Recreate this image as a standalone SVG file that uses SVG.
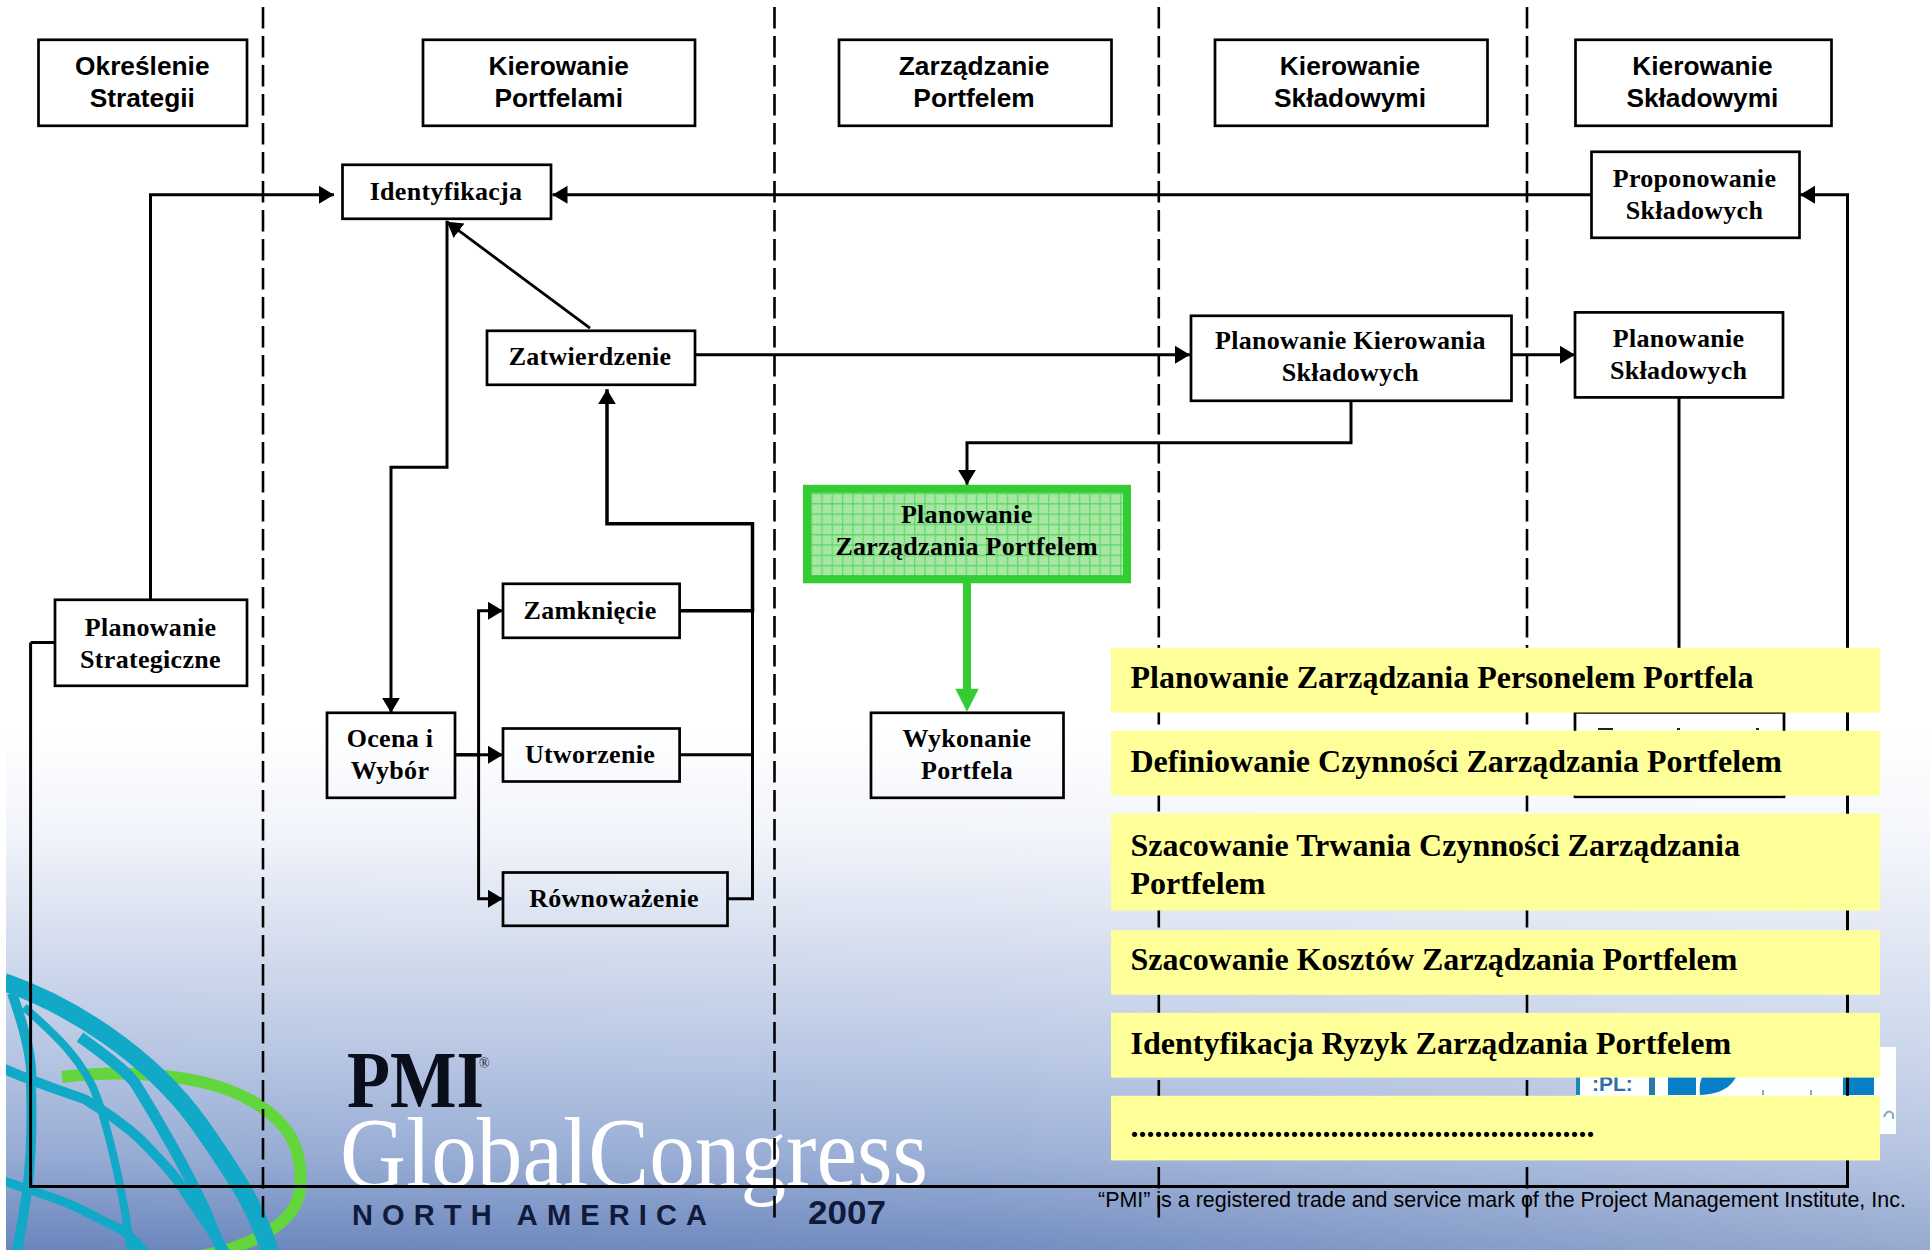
<svg xmlns="http://www.w3.org/2000/svg" width="1930" height="1250" viewBox="0 0 1930 1250">
<style>
.box{fill:none;stroke:#000;stroke-width:2.7}
.hd{font:bold 26.300px "Liberation Sans",Arial,sans-serif;text-anchor:middle;fill:#000}
.nd{font:bold 26px "Liberation Serif","Times New Roman",serif;text-anchor:middle;fill:#000;letter-spacing:.3px}
.yl{fill:#ffff99}
.yt{font:bold 32px "Liberation Serif","Times New Roman",serif;fill:#000}
.c{fill:none;stroke:#000;stroke-width:3}
.arr{marker-end:url(#ah)}
.dash{fill:none;stroke:#000;stroke-width:2.600;stroke-dasharray:21.500 7.500}
.teal{fill:none;stroke:#12a8c8;stroke-linejoin:round}
</style>
<defs>
<linearGradient id="bg" x1="0" y1="0" x2="0" y2="1">
<stop offset="0" stop-color="#fff"/><stop offset=".2" stop-color="#f1f4fa"/><stop offset=".42" stop-color="#d3dcee"/><stop offset=".62" stop-color="#b7c6e3"/><stop offset=".82" stop-color="#96abd4"/><stop offset="1" stop-color="#6a86bc"/>
</linearGradient>
<linearGradient id="sh" x1="0" y1="0" x2="1" y2="0">
<stop offset="0" stop-color="#fff" stop-opacity="0"/><stop offset=".5" stop-color="#fff" stop-opacity=".05"/><stop offset="1" stop-color="#fff" stop-opacity=".3"/>
</linearGradient>
<marker id="ah" markerUnits="userSpaceOnUse" markerWidth="16" markerHeight="20" refX="15" refY="9" orient="auto"><path d="M0 0L15 9L0 18Z" fill="#000"/></marker>
<pattern id="chk" width="4" height="4" patternUnits="userSpaceOnUse"><rect width="4" height="4" fill="#b2e9ac"/><rect width="2" height="2" fill="#9ee49c"/><rect x="2" y="2" width="2" height="2" fill="#9ee49c"/></pattern>
<pattern id="grid" x="811" y="492" width="10.300" height="10.300" patternUnits="userSpaceOnUse"><rect width="10.300" height="10.300" fill="url(#chk)"/><path d="M.7 0V10.300M0 .7H10.300" stroke="#5ada68" stroke-width="1.200"/></pattern>
<clipPath id="logoClip"><rect x="6" y="950" width="400" height="300"/></clipPath>
</defs>
<g id="background">
<rect width="1930" height="1250" fill="#fff"/>
<rect x="6" y="730" width="1924" height="520" fill="url(#bg)"/>
<rect x="6" y="730" width="1924" height="520" fill="url(#sh)"/>
</g>
<g id="logo">
<g clip-path="url(#logoClip)">
<path d="M62 1077C120 1070 200 1072 250 1100C295 1125 303 1155 300 1190C295 1225 250 1250 178 1260" fill="none" stroke="#62d63c" stroke-width="12"/>
<path class="teal" stroke-width="18" d="M4 982C70 1005 150 1055 200 1125C235 1175 262 1215 272 1262"/>
<path class="teal" stroke-width="8" d="M24 1007C50 1030 85 1060 98 1100C108 1130 125 1195 132 1262"/>
<path class="teal" stroke-width="11" d="M80 1037C105 1055 125 1070 135 1083C155 1115 190 1175 208 1217C215 1235 222 1250 226 1262"/>
<path class="teal" stroke-width="10" d="M2 1068C40 1085 75 1095 86 1100C110 1115 125 1125 141 1140C160 1160 175 1175 184 1190C200 1215 220 1240 230 1262"/>
<path class="teal" stroke-width="9" d="M4 1181C30 1190 50 1196 67 1203C90 1213 110 1225 122 1230C135 1240 145 1250 152 1262"/>
<path class="teal" stroke-width="10" d="M12 993C25 1030 33 1060 31 1083C32 1120 32 1150 28 1183C25 1210 20 1235 15 1262"/>
</g>
<text x="347" y="1107" font-family="'Liberation Serif',serif" font-weight="bold" font-size="80" fill="#0a0d1a" textLength="137" lengthAdjust="spacingAndGlyphs">PMI</text>
<text x="479" y="1068" font-family="'Liberation Serif',serif" font-size="14" fill="#222">®</text>
<text x="340" y="1186" font-family="'Liberation Serif',serif" font-size="100" fill="#fff" textLength="588" lengthAdjust="spacingAndGlyphs">GlobalCongress</text>
<text x="352" y="1225" font-family="'Liberation Sans',sans-serif" font-weight="bold" font-size="29" fill="#101a3c" textLength="355">NORTH AMERICA</text>
<text x="808" y="1224" font-family="'Liberation Sans',sans-serif" font-weight="bold" font-size="34" fill="#101a3c" textLength="78" lengthAdjust="spacingAndGlyphs">2007</text>
</g>
<g id="pasted-image">
<rect x="1576" y="1047" width="320" height="87" fill="#fdfeff"/>
<rect x="1576" y="1047" width="4" height="48" fill="#1d86b8"/>
<text x="1592" y="1091" font-family="'Liberation Sans',sans-serif" font-weight="bold" font-size="21" fill="#2f6fa8">:PL:</text>
<rect x="1649" y="1047" width="6" height="48" fill="#2a7aa8"/>
<rect x="1668" y="1047" width="28" height="48" fill="#0880c8"/>
<path d="M1703 1075H1737C1732 1086 1722 1094 1700 1095C1699 1088 1700 1080 1703 1075Z" fill="#0880c8"/>
<rect x="1843" y="1047" width="31" height="48" fill="#0880c8"/>
<path d="M1763 1095V1090M1811 1095V1090" stroke="#88a8b8" stroke-width="2"/>
<path d="M1884 1117C1886 1111 1890 1110 1893 1114L1893 1119" fill="none" stroke="#7fb0c0" stroke-width="2"/>
</g>
<g id="dividers">
<path class="dash" d="M263 7V1223"/>
<path class="dash" d="M774.500 7V1223"/>
<path class="dash" d="M1158.800 7V1223"/>
<path class="dash" d="M1527 7V1223"/>
</g>
<g id="connectors" transform="translate(0 .8)">
<path class="c arr" d="M150.500 599V194H334"/>
<path class="c arr" d="M1591 194H552.500"/>
<path class="c arr" d="M447 220V466.500H391V712"/>
<path class="c arr" style="stroke-width:2.800" d="M590 327.400L447 221"/>
<path class="c arr" d="M695 354H1190"/>
<path class="c arr" d="M1512 354H1575"/>
<path class="c arr" d="M1351 400V442H967V484"/>
<path class="c" d="M1679 397V712"/>
<path class="c arr" d="M30.600 641.700H54.600M30.600 641.700V1185.700H1847.500V194H1800"/>
<path class="c" style="stroke-width:3.500" d="M455 754H480"/>
<path class="c arr" d="M478.600 754H503"/>
<path class="c arr" d="M478.600 754V610H503"/>
<path class="c arr" d="M478.600 754V898H503"/>
<path class="c arr" style="stroke-width:3.500" d="M680 610H752.500V523H607V388.500"/>
<path class="c" d="M680 754H752.500"/>
<path class="c" d="M728 898H752.500V610"/>
<path fill="none" stroke="#33cc33" stroke-width="8" d="M967 582V692"/>
<path fill="#33cc33" d="M955.300 688H978.700L967 711Z"/>
</g>
<g id="nodes" transform="translate(0 .8)">
<g id="head-strategy"><rect class="box" x="38.500" y="39" width="208.500" height="86"/><text class="hd" x="142.300" y="74">Określenie</text><text class="hd" x="142.300" y="106">Strategii</text></g>
<g id="head-portfolios"><rect class="box" x="423" y="39" width="272" height="86"/><text class="hd" x="558.700" y="74">Kierowanie</text><text class="hd" x="558.700" y="106">Portfelami</text></g>
<g id="head-portfolio"><rect class="box" x="839" y="39" width="272.500" height="86"/><text class="hd" x="974" y="74">Zarządzanie</text><text class="hd" x="974" y="106">Portfelem</text></g>
<g id="head-components-1"><rect class="box" x="1215" y="39" width="272.500" height="86"/><text class="hd" x="1350" y="74">Kierowanie</text><text class="hd" x="1350" y="106">Składowymi</text></g>
<g id="head-components-2"><rect class="box" x="1575.500" y="39" width="256" height="86"/><text class="hd" x="1702.400" y="74">Kierowanie</text><text class="hd" x="1702.400" y="106">Składowymi</text></g>
<g id="identyfikacja"><rect class="box" x="342.500" y="164" width="208.500" height="54"/><text class="nd" x="446" y="199">Identyfikacja</text></g>
<g id="proponowanie"><rect class="box" x="1591.500" y="151" width="208" height="86"/><text class="nd" x="1694.500" y="186">Proponowanie</text><text class="nd" x="1694.500" y="218">Składowych</text></g>
<g id="zatwierdzenie"><rect class="box" x="487" y="330" width="208" height="54"/><text class="nd" x="590" y="364">Zatwierdzenie</text></g>
<g id="planowanie-kierowania"><rect class="box" x="1191" y="315" width="320.500" height="85"/><text class="nd" x="1350.400" y="348.500">Planowanie Kierowania</text><text class="nd" x="1350.400" y="380">Składowych</text></g>
<g id="planowanie-skladowych"><rect class="box" x="1575" y="311.600" width="208" height="85"/><text class="nd" x="1678.600" y="346.500">Planowanie</text><text class="nd" x="1678.600" y="378.500">Składowych</text></g>
<g id="planowanie-zarzadzania"><rect x="807" y="488" width="320" height="90.500" fill="url(#grid)" stroke="#33cc33" stroke-width="8"/><text class="nd" x="966.700" y="522.500">Planowanie</text><text class="nd" x="966.700" y="554.500">Zarządzania Portfelem</text></g>
<g id="planowanie-strategiczne"><rect class="box" x="55" y="599" width="192" height="86"/><text class="nd" x="150.500" y="635">Planowanie</text><text class="nd" x="150.500" y="667">Strategiczne</text></g>
<g id="ocena"><rect class="box" x="327" y="712" width="128" height="85"/><text class="nd" x="390" y="746.500">Ocena i</text><text class="nd" x="390" y="778.500">Wybór</text></g>
<g id="zamkniecie"><rect class="box" x="503" y="583" width="176.600" height="54"/><text class="nd" x="590" y="618.500">Zamknięcie</text></g>
<g id="utworzenie"><rect class="box" x="503" y="727.700" width="176.600" height="53"/><text class="nd" x="590" y="762">Utworzenie</text></g>
<g id="rownowazenie"><rect class="box" x="503" y="871.700" width="224.500" height="53.300"/><text class="nd" x="614" y="906">Równoważenie</text></g>
<g id="wykonanie"><rect class="box" x="871" y="712" width="192.500" height="85"/><text class="nd" x="967" y="746.500">Wykonanie</text><text class="nd" x="967" y="778.500">Portfela</text></g>
<g id="hidden-box"><rect class="box" x="1575" y="711.600" width="209" height="84.400"/><path d="M1598 728.200H1613M1677 728.200H1680M1756 728.200H1759" stroke="#222" stroke-width="2"/></g>
</g>
<text id="trademark" x="1098" y="1206.500" font-family="'Liberation Sans',Arial,sans-serif" font-size="21.450" fill="#000">“PMI” is a registered trade and service mark of the Project Management Institute, Inc.</text>
<g id="list" transform="translate(0 .8)">
<g id="list-1"><rect class="yl" x="1111" y="647" width="769" height="64.700"/><text class="yt" x="1130.500" y="687.500">Planowanie Zarządzania Personelem Portfela</text></g>
<g id="list-2"><rect class="yl" x="1111" y="730" width="769" height="64.800"/><text class="yt" x="1130.500" y="771">Definiowanie Czynności Zarządzania Portfelem</text></g>
<g id="list-3"><rect class="yl" x="1111" y="812.900" width="769" height="96.800"/><text class="yt" x="1130.500" y="855">Szacowanie Trwania Czynności Zarządzania</text><text class="yt" x="1130.500" y="893">Portfelem</text></g>
<g id="list-4"><rect class="yl" x="1111" y="929.400" width="769" height="64.600"/><text class="yt" x="1130.500" y="969">Szacowanie Kosztów Zarządzania Portfelem</text></g>
<g id="list-5"><rect class="yl" x="1111" y="1012" width="769" height="64.800"/><text class="yt" x="1130.500" y="1053">Identyfikacja Ryzyk Zarządzania Portfelem</text></g>
<g id="list-6"><rect class="yl" x="1111" y="1095" width="769" height="64.600"/><text class="yt" x="1130.500" y="1136">..........................................................</text></g>
</g>
</svg>
